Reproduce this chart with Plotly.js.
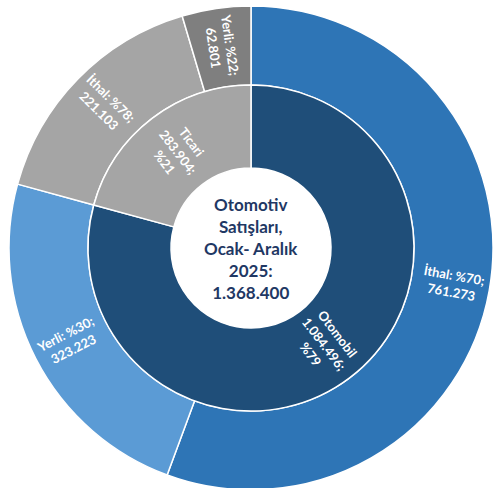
<!DOCTYPE html>
<html>
<head>
<meta charset="utf-8">
<script src="https://cdn.plot.ly/plotly-3.0.1.min.js"></script>
<style>
html,body{margin:0;padding:0;overflow:hidden;background:#fff;}
#chart{width:493px;height:496px;}
</style>
</head>
<body>
<div id="chart"></div>
<script>
// Inner ring: segments
const innerLabels = ["Otomobil", "Ticari"];
const innerValues = [1084496, 283904];
const innerShares = [79, 21];
const innerColors = ["#1F4E79", "#A5A5A5"];

// Outer ring: origin split per segment
const outerLabels = ["İthal", "Yerli", "İthal", "Yerli"];
const outerValues = [761273, 323223, 221103, 62801];
const outerShares = [70, 30, 78, 22];
const outerColors = ["#2E75B6", "#5B9BD5", "#A5A5A5", "#7F7F7F"];

const centerTitle = ["Otomotiv", "Satışları,", "Ocak- Aralık", "2025:"];

function fmt(n){
  return String(n).replace(/\B(?=(\d{3})+(?!\d))/g, ".");
}

const total = innerValues.reduce((a,b)=>a+b,0);

const innerText = innerLabels.map((l,i)=> l + "<br>" + fmt(innerValues[i]) + ";<br>%" + innerShares[i]);
const outerText = outerLabels.map((l,i)=> l + ": %" + outerShares[i] + ";<br>" + fmt(outerValues[i]));

const W = 493, H = 496;
const cx = 251, cy = 248;
const rOuter = 242, rInner = 163, rHole = 80;

function dom(r){
  return {x:[(cx-r)/W, Math.min(1,(cx+r)/W)], y:[(H-cy-r)/H, (H-cy+r)/H]};
}

const textFont = {family:"Lato, 'Open Sans', sans-serif", size:13, color:"#ffffff", weight:700};

// radial labels placed at the middle angle of each slice (derived from the values)
function radialLabels(values, texts, radius){
  const tot = values.reduce((a,b)=>a+b,0);
  let cum = 0;
  return values.map((v,i)=>{
    const mid = (cum + v/2)/tot*2*Math.PI;
    cum += v;
    const sx = Math.sin(mid), sy = -Math.cos(mid);
    let ang = Math.atan2(sy, sx)*180/Math.PI;
    if (ang > 90) ang -= 180;
    if (ang < -90) ang += 180;
    return {
      xref:"paper", yref:"paper",
      x:(cx + radius*sx)/W, y:(H - (cy + radius*sy))/H,
      xanchor:"center", yanchor:"middle",
      showarrow:false, textangle: ang,
      text: texts[i], font: textFont
    };
  });
}

const outer = {
  type:"pie",
  values: outerValues,
  labels: outerLabels.map((l,i)=>l+i),
  textinfo:"none",
  sort:false,
  direction:"clockwise",
  rotation:0,
  hole: rInner/rOuter,
  domain: dom(rOuter),
  marker:{colors: outerColors, line:{color:"#ffffff", width:1.5}},
  hoverinfo:"none",
  showlegend:false
};

const inner = {
  type:"pie",
  values: innerValues,
  labels: innerLabels,
  textinfo:"none",
  sort:false,
  direction:"clockwise",
  rotation:0,
  hole: rHole/rInner,
  domain: dom(rInner),
  marker:{colors: innerColors, line:{color:"#ffffff", width:1.5}},
  hoverinfo:"none",
  showlegend:false
};

const annotations = []
  .concat(radialLabels(outerValues, outerText, (rInner+rOuter)/2 + 2))
  .concat(radialLabels(innerValues, innerText, (rHole+rInner)/2 - 1));

annotations.push({
  xref:"paper", yref:"paper",
  x: cx/W, y: (H-cy)/H,
  xanchor:"center", yanchor:"middle",
  showarrow:false,
  text: centerTitle.join("<br>") + "<br>" + fmt(total),
  font:{family:"Lato, 'Open Sans', sans-serif", size:17, color:"#1F3864", weight:700}
});

const layout = {
  width: W, height: H,
  margin:{l:0,r:0,t:0,b:0},
  paper_bgcolor:"#ffffff",
  showlegend:false,
  annotations: annotations
};

Plotly.newPlot("chart", [outer, inner], layout, {displayModeBar:false, staticPlot:true});
</script>
</body>
</html>
